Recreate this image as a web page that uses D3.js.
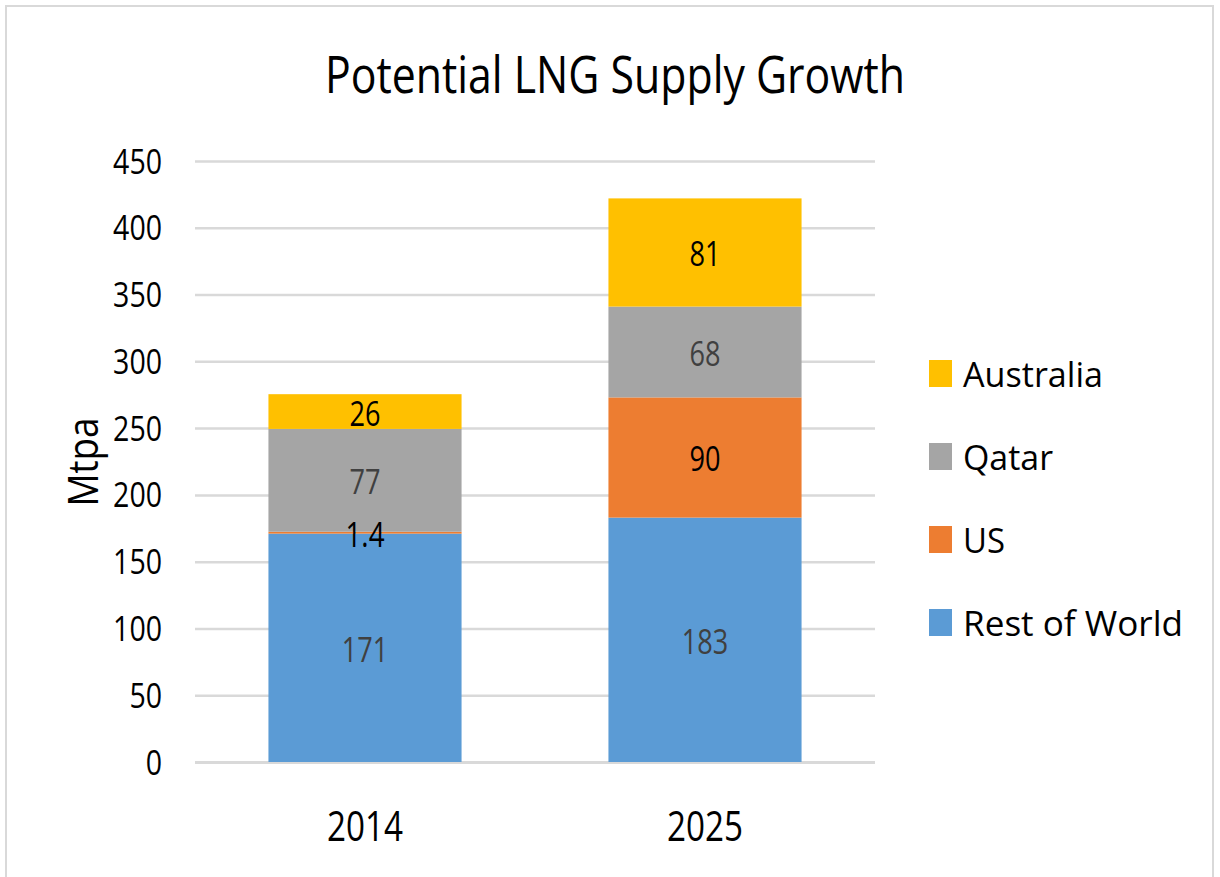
<!DOCTYPE html>
<html>
<head>
<meta charset="utf-8">
<script src="https://cdn.jsdelivr.net/npm/d3@7"></script>
<style>
	body { margin: 0; background: #fff; }
	text { font-family: 'Open Sans', sans-serif; }
</style>
</head>
<body>
<div id="chart"></div>
<script>

//DATA
var years = ['2014', '2025'];
var seriesNames = ['Rest of World', 'US', 'Qatar', 'Australia'];
var restOfWorld = [171, 183];
var us = [1.4, 90];
var qatar = [77, 68];
var australia = [26, 81];
var yTicks = [0, 50, 100, 150, 200, 250, 300, 350, 400, 450];
var seriesColors = ['#5b9bd5', '#ed7d31', '#a5a5a5', '#ffc000'];
var labelColors = ['#404040', '#000000', '#404040', '#000000'];
var legendOrder = ['Australia', 'Qatar', 'US', 'Rest of World'];

var width = 1220,
    height = 877;

//approx widths of the narrow chart font, per character
function textWidth(str, digitW) {
	var w = 0;
	str.split('').forEach(function(c){
		w += (c === '.') ? digitW * 0.52 : digitW;
	});
	return w;
}

var svg = d3.select('#chart').append('svg')
    .attr('width', width)
    .attr('height', height);

//outer frame
svg.append('rect')
    .attr('x', 6)
    .attr('y', 6)
    .attr('width', 1207)
    .attr('height', 1000)
    .attr('fill', '#fff')
    .attr('stroke', '#d9d9d9')
    .attr('stroke-width', 2);

//title
svg.append('text')
    .attr('x', 615)
    .attr('y', 93)
    .attr('text-anchor', 'middle')
    .attr('font-size', 52)
    .attr('textLength', 580)
    .attr('lengthAdjust', 'spacingAndGlyphs')
    .text('Potential LNG Supply Growth');

//SCALES
var x = d3.scaleBand()
    .domain(years)
    .range([195, 875])
    .paddingInner(0.432)
    .paddingOuter(0.216);

var y = d3.scaleLinear()
    .domain([0, 450])
    .range([762, 161]);

//gridlines + tick labels
var yAxis = svg.append('g')
    .attr('transform', 'translate(195,0)')
    .call(d3.axisLeft(y).tickValues(yTicks).tickSize(-680).tickPadding(33));

yAxis.select('.domain').remove();
yAxis.selectAll('line')
    .attr('stroke', '#d9d9d9')
    .attr('stroke-width', function(d){ return d === 0 ? 3 : 2.5; });
yAxis.selectAll('text')
    .attr('fill', '#000')
    .attr('font-size', 35)
    .attr('font-family', "'Open Sans', sans-serif")
    .attr('dy', 12)
    .attr('textLength', function(d){ return textWidth(String(d), 16.3); })
    .attr('lengthAdjust', 'spacingAndGlyphs');

//y title
svg.append('text')
    .attr('transform', 'translate(98,462) rotate(-90)')
    .attr('text-anchor', 'middle')
    .attr('font-size', 42)
    .attr('textLength', 89)
    .attr('lengthAdjust', 'spacingAndGlyphs')
    .text('Mtpa');

//STACK
var rows = years.map(function(yr, i){
	return { year: yr, 'Rest of World': restOfWorld[i], 'US': us[i], 'Qatar': qatar[i], 'Australia': australia[i] };
});

var stacked = d3.stack().keys(seriesNames)(rows);

var layers = svg.selectAll('.layer')
    .data(stacked)
  .enter().append('g')
    .attr('class', 'layer')
    .attr('fill', function(d, i){ return seriesColors[i]; });

layers.selectAll('rect')
    .data(function(d){ return d; })
  .enter().append('rect')
    .attr('x', function(d){ return x(d.data.year); })
    .attr('y', function(d){ return y(d[1]); })
    .attr('width', x.bandwidth())
    .attr('height', function(d){ return y(d[0]) - y(d[1]); });

//data labels
stacked.forEach(function(layer, i){
	svg.selectAll('.lbl-' + i)
	    .data(layer)
	  .enter().append('text')
	    .attr('class', 'lbl-' + i)
	    .attr('x', function(d){ return x(d.data.year) + x.bandwidth() / 2; })
	    .attr('y', function(d){ return (y(d[0]) + y(d[1])) / 2 + 14; })
	    .attr('text-anchor', 'middle')
	    .attr('font-size', 35)
	    .attr('fill', labelColors[i])
	    .attr('textLength', function(d){ return textWidth(String(d.data[layer.key]), 15.5); })
	    .attr('lengthAdjust', 'spacingAndGlyphs')
	    .text(function(d){ return d.data[layer.key]; });
});

//x labels
svg.selectAll('.year-label')
    .data(years)
  .enter().append('text')
    .attr('class', 'year-label')
    .attr('x', function(d){ return x(d) + x.bandwidth() / 2; })
    .attr('y', 841)
    .attr('text-anchor', 'middle')
    .attr('font-size', 42)
    .attr('textLength', 76)
    .attr('lengthAdjust', 'spacingAndGlyphs')
    .text(function(d){ return d; });

//LEGEND
var legendWidths = { 'Australia': 140, 'Qatar': 90, 'US': 42, 'Rest of World': 220 };

var legend = svg.selectAll('.legend-item')
    .data(legendOrder)
  .enter().append('g')
    .attr('class', 'legend-item')
    .attr('transform', function(d, i){ return 'translate(929,' + (360 + i * 83) + ')'; });

legend.append('rect')
    .attr('width', 23)
    .attr('height', 27)
    .attr('fill', function(d){ return seriesColors[seriesNames.indexOf(d)]; });

legend.append('text')
    .attr('x', 34)
    .attr('y', 27)
    .attr('font-size', 35)
    .attr('textLength', function(d){ return legendWidths[d]; })
    .attr('lengthAdjust', 'spacingAndGlyphs')
    .text(function(d){ return d; });

</script>
</body>
</html>
